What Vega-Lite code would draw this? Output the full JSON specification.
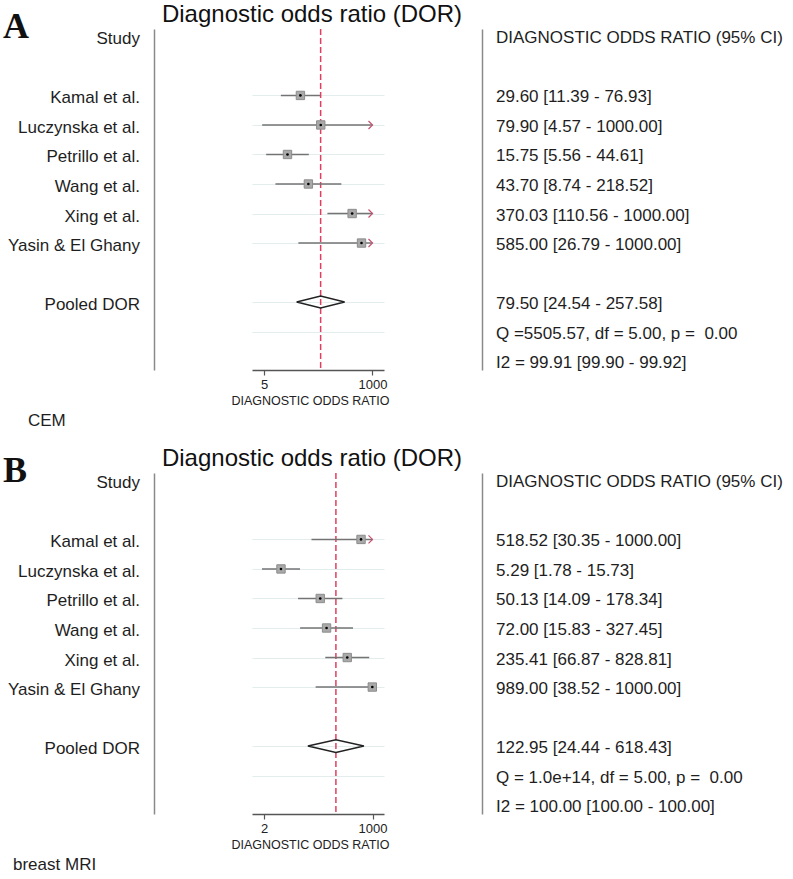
{
  "$schema": "https://vega.github.io/schema/vega-lite/v6.json",
  "padding": {"left": 0, "top": 3, "right": 0, "bottom": 0},
  "autosize": {"type": "pad"},
  "background": "white",
  "bounds": "flush",
  "columns": 3,
  "spacing": {"row": 103, "column": 98},
  "resolve": {"scale": {"x": "independent", "y": "independent"}},
  "config": {
    "view": {"stroke": null},
    "font": "Liberation Sans",
    "text": {"font": "Liberation Sans", "fontSize": 17, "color": "#1e1e1e"},
    "axis": {"labelFont": "Liberation Sans", "titleFont": "Liberation Sans"},
    "title": {"font": "Liberation Sans"}
  },
  "datasets": {
    "leftA": [
      {"row": 0, "text": "Study"},
      {"row": 2, "text": "Kamal et al."},
      {"row": 3, "text": "Luczynska et al."},
      {"row": 4, "text": "Petrillo et al."},
      {"row": 5, "text": "Wang et al."},
      {"row": 6, "text": "Xing et al."},
      {"row": 7, "text": "Yasin & El Ghany"},
      {"row": 9, "text": "Pooled DOR"}
    ],
    "notesA": [
      {"kind": "tag", "row": 0, "text": "A"},
      {"kind": "caption", "row": 13, "text": "CEM"}
    ],
    "studiesA": [
      {"row": 2, "dor": 29.60, "lo": 11.39, "hi": 76.93},
      {"row": 3, "dor": 79.90, "lo": 4.57, "hi": 1000},
      {"row": 4, "dor": 15.75, "lo": 5.56, "hi": 44.61},
      {"row": 5, "dor": 43.70, "lo": 8.74, "hi": 218.52},
      {"row": 6, "dor": 370.03, "lo": 110.56, "hi": 1000},
      {"row": 7, "dor": 585.00, "lo": 26.79, "hi": 1000}
    ],
    "pooledA": [{"row": 9, "dor": 79.50, "lo": 24.54, "hi": 257.58}],
    "rightA": [
      {"row": 0, "text": "DIAGNOSTIC ODDS RATIO (95% CI)"},
      {"row": 2, "text": "29.60 [11.39 - 76.93]"},
      {"row": 3, "text": "79.90 [4.57 - 1000.00]"},
      {"row": 4, "text": "15.75 [5.56 - 44.61]"},
      {"row": 5, "text": "43.70 [8.74 - 218.52]"},
      {"row": 6, "text": "370.03 [110.56 - 1000.00]"},
      {"row": 7, "text": "585.00 [26.79 - 1000.00]"},
      {"row": 9, "text": "\u00a079.50 [24.54 - 257.58]"},
      {"row": 10, "text": "Q =5505.57, df = 5.00, p =\u00a0 0.00"},
      {"row": 11, "text": "I2 = 99.91 [99.90 - 99.92]"}
    ],
    "leftB": [
      {"row": 0, "text": "Study"},
      {"row": 2, "text": "Kamal et al."},
      {"row": 3, "text": "Luczynska et al."},
      {"row": 4, "text": "Petrillo et al."},
      {"row": 5, "text": "Wang et al."},
      {"row": 6, "text": "Xing et al."},
      {"row": 7, "text": "Yasin & El Ghany"},
      {"row": 9, "text": "Pooled DOR"}
    ],
    "notesB": [
      {"kind": "tag", "row": 0, "text": "B"},
      {"kind": "caption", "row": 13, "text": "breast MRI"}
    ],
    "studiesB": [
      {"row": 2, "dor": 518.52, "lo": 30.35, "hi": 1000},
      {"row": 3, "dor": 5.29, "lo": 1.78, "hi": 15.73},
      {"row": 4, "dor": 50.13, "lo": 14.09, "hi": 178.34},
      {"row": 5, "dor": 72.00, "lo": 15.83, "hi": 327.45},
      {"row": 6, "dor": 235.41, "lo": 66.87, "hi": 828.81},
      {"row": 7, "dor": 989.00, "lo": 38.52, "hi": 1000}
    ],
    "pooledB": [{"row": 9, "dor": 122.95, "lo": 24.44, "hi": 618.43}],
    "rightB": [
      {"row": 0, "text": "DIAGNOSTIC ODDS RATIO (95% CI)"},
      {"row": 2, "text": "518.52 [30.35 - 1000.00]"},
      {"row": 3, "text": "5.29 [1.78 - 15.73]"},
      {"row": 4, "text": "50.13 [14.09 - 178.34]"},
      {"row": 5, "text": "72.00 [15.83 - 327.45]"},
      {"row": 6, "text": "235.41 [66.87 - 828.81]"},
      {"row": 7, "text": "989.00 [38.52 - 1000.00]"},
      {"row": 9, "text": "\u00a0122.95 [24.44 - 618.43]"},
      {"row": 10, "text": "Q = 1.0e+14, df = 5.00, p =\u00a0 0.00"},
      {"row": 11, "text": "I2 = 100.00 [100.00 - 100.00]"}
    ]
  },
  "concat": [
    {
      "width": 154, "height": 341,
      "layer": [
        {
          "data": {"name": "leftA"},
          "mark": {"type": "text", "align": "right", "baseline": "middle", "dx": -14, "dy": 3, "fontSize": 17},
          "encoding": {
            "x": {"datum": 1, "type": "quantitative", "scale": {"domain": [0, 1], "nice": false, "zero": false}, "axis": null},
            "y": {"field": "row", "type": "quantitative", "scale": {"domain": [-0.25, 11.3], "reverse": true, "nice": false, "zero": false},
                  "axis": {"orient": "right", "labels": false, "ticks": false, "grid": false, "title": null, "domainColor": "#8a8a8a", "domainWidth": 1.5}},
            "text": {"field": "text"}
          }
        },
        {
          "data": {"name": "notesA"},
          "transform": [{"filter": "datum.kind === 'tag'"}],
          "mark": {"type": "text", "align": "left", "baseline": "alphabetic", "dx": 3, "dy": 2, "font": "Liberation Serif", "fontWeight": "bold", "fontSize": 36, "color": "#111"},
          "encoding": {
            "x": {"datum": 0, "type": "quantitative", "scale": {"domain": [0, 1], "nice": false, "zero": false}, "axis": null},
            "y": {"field": "row", "type": "quantitative"},
            "text": {"field": "text"}
          }
        },
        {
          "data": {"name": "notesA"},
          "transform": [{"filter": "datum.kind === 'caption'"}],
          "mark": {"type": "text", "align": "left", "baseline": "middle", "dx": 28, "dy": 1, "fontSize": 17},
          "encoding": {
            "x": {"datum": 0, "type": "quantitative"},
            "y": {"field": "row", "type": "quantitative"},
            "text": {"field": "text"}
          }
        }
      ]
    },
    {
      "width": 132, "height": 341,
      "title": {"text": "Diagnostic odds ratio (DOR)", "fontSize": 24, "fontWeight": "normal", "anchor": "middle", "dx": -6, "offset": -23, "baseline": "bottom", "color": "#111"},
      "layer": [
        {
          "data": {"name": "pooledA"},
          "mark": {"type": "rule", "color": "#e0405f", "strokeDash": [6, 3], "strokeWidth": 1.5},
          "encoding": {
            "x": {"field": "dor", "type": "quantitative", "scale": {"type": "log", "domain": [2.783, 1754], "nice": false},
                  "title": "DIAGNOSTIC ODDS RATIO",
                  "axis": {"values": [5, 1000], "format": "d", "domain": true, "domainColor": "#555", "domainWidth": 1.5, "ticks": true, "tickSize": 5, "tickColor": "#555", "tickWidth": 1.2, "labelFontSize": 13, "labelColor": "#222", "labelPadding": 3, "labelFlush": false, "labelOverlap": false, "titleFontSize": 12.5, "titleFontWeight": "normal", "titleColor": "#222", "titlePadding": 3, "titleX": 58, "grid": false}}
          }
        },
        {
          "data": {"name": "studiesA"},
          "mark": {"type": "rule", "color": "#737373", "strokeWidth": 1.5},
          "encoding": {
            "x": {"field": "lo", "type": "quantitative", "title": "DIAGNOSTIC ODDS RATIO"},
            "x2": {"field": "hi"},
            "y": {"field": "row", "type": "quantitative", "scale": {"domain": [-0.25, 11.3], "reverse": true, "nice": false, "zero": false},
                  "axis": {"values": [2, 3, 4, 5, 6, 7, 9, 10], "grid": true, "gridColor": "#e3eded", "gridWidth": 1, "domain": false, "ticks": false, "labels": false, "title": null}}
          }
        },
        {
          "data": {"name": "studiesA"},
          "transform": [{"filter": "datum.hi >= 1000"}],
          "mark": {"type": "point", "shape": "M-1,-1L0,0L-1,1", "filled": false, "stroke": "#c8506e", "strokeWidth": 1.2, "size": 64, "opacity": 1},
          "encoding": {
            "x": {"field": "hi", "type": "quantitative", "title": "DIAGNOSTIC ODDS RATIO"},
            "y": {"field": "row", "type": "quantitative"}
          }
        },
        {
          "data": {"name": "studiesA"},
          "mark": {"type": "point", "shape": "square", "filled": true, "fill": "#a9a9a9", "stroke": "#8c8c8c", "strokeWidth": 1, "size": 70, "opacity": 1},
          "encoding": {
            "x": {"field": "dor", "type": "quantitative", "title": "DIAGNOSTIC ODDS RATIO"},
            "y": {"field": "row", "type": "quantitative"}
          }
        },
        {
          "data": {"name": "studiesA"},
          "mark": {"type": "point", "shape": "circle", "filled": true, "color": "#000", "size": 7, "opacity": 1},
          "encoding": {
            "x": {"field": "dor", "type": "quantitative", "title": "DIAGNOSTIC ODDS RATIO"},
            "y": {"field": "row", "type": "quantitative"}
          }
        },
        {
          "data": {"name": "pooledA"},
          "mark": {"type": "point", "shape": "M-1,0L0,-0.25L1,0L0,0.25Z", "filled": false, "stroke": "#222", "strokeWidth": 1.5, "size": 2304, "opacity": 1},
          "encoding": {
            "x": {"field": "dor", "type": "quantitative", "title": "DIAGNOSTIC ODDS RATIO"},
            "y": {"field": "row", "type": "quantitative"}
          }
        }
      ]
    },
    {
      "width": 311, "height": 341,
      "data": {"name": "rightA"},
      "mark": {"type": "text", "align": "left", "baseline": "middle", "dx": 14, "dy": 2, "fontSize": 17},
      "encoding": {
        "x": {"datum": 0, "type": "quantitative", "scale": {"domain": [0, 1], "nice": false, "zero": false}, "axis": null},
        "y": {"field": "row", "type": "quantitative", "scale": {"domain": [-0.25, 11.3], "reverse": true, "nice": false, "zero": false},
              "axis": {"orient": "left", "labels": false, "ticks": false, "grid": false, "title": null, "domainColor": "#8a8a8a", "domainWidth": 1.5}},
        "text": {"field": "text"}
      }
    },
    {
      "width": 154, "height": 341,
      "layer": [
        {
          "data": {"name": "leftB"},
          "mark": {"type": "text", "align": "right", "baseline": "middle", "dx": -14, "dy": 3, "fontSize": 17},
          "encoding": {
            "x": {"datum": 1, "type": "quantitative", "scale": {"domain": [0, 1], "nice": false, "zero": false}, "axis": null},
            "y": {"field": "row", "type": "quantitative", "scale": {"domain": [-0.25, 11.3], "reverse": true, "nice": false, "zero": false},
                  "axis": {"orient": "right", "labels": false, "ticks": false, "grid": false, "title": null, "domainColor": "#8a8a8a", "domainWidth": 1.5}},
            "text": {"field": "text"}
          }
        },
        {
          "data": {"name": "notesB"},
          "transform": [{"filter": "datum.kind === 'tag'"}],
          "mark": {"type": "text", "align": "left", "baseline": "alphabetic", "dx": 3, "dy": 2, "font": "Liberation Serif", "fontWeight": "bold", "fontSize": 36, "color": "#111"},
          "encoding": {
            "x": {"datum": 0, "type": "quantitative", "scale": {"domain": [0, 1], "nice": false, "zero": false}, "axis": null},
            "y": {"field": "row", "type": "quantitative"},
            "text": {"field": "text"}
          }
        },
        {
          "data": {"name": "notesB"},
          "transform": [{"filter": "datum.kind === 'caption'"}],
          "mark": {"type": "text", "align": "left", "baseline": "middle", "dx": 13, "dy": 1, "fontSize": 17},
          "encoding": {
            "x": {"datum": 0, "type": "quantitative"},
            "y": {"field": "row", "type": "quantitative"},
            "text": {"field": "text"}
          }
        }
      ]
    },
    {
      "width": 132, "height": 341,
      "title": {"text": "Diagnostic odds ratio (DOR)", "fontSize": 24, "fontWeight": "normal", "anchor": "middle", "dx": -6, "offset": -23, "baseline": "bottom", "color": "#111"},
      "layer": [
        {
          "data": {"name": "pooledB"},
          "mark": {"type": "rule", "color": "#e0405f", "strokeDash": [6, 3], "strokeWidth": 1.5},
          "encoding": {
            "x": {"field": "dor", "type": "quantitative", "scale": {"type": "log", "domain": [1.006, 1932], "nice": false},
                  "title": "DIAGNOSTIC ODDS RATIO",
                  "axis": {"values": [2, 1000], "format": "d", "domain": true, "domainColor": "#555", "domainWidth": 1.5, "ticks": true, "tickSize": 5, "tickColor": "#555", "tickWidth": 1.2, "labelFontSize": 13, "labelColor": "#222", "labelPadding": 3, "labelFlush": false, "labelOverlap": false, "titleFontSize": 12.5, "titleFontWeight": "normal", "titleColor": "#222", "titlePadding": 3, "titleX": 58, "grid": false}}
          }
        },
        {
          "data": {"name": "studiesB"},
          "mark": {"type": "rule", "color": "#737373", "strokeWidth": 1.5},
          "encoding": {
            "x": {"field": "lo", "type": "quantitative", "title": "DIAGNOSTIC ODDS RATIO"},
            "x2": {"field": "hi"},
            "y": {"field": "row", "type": "quantitative", "scale": {"domain": [-0.25, 11.3], "reverse": true, "nice": false, "zero": false},
                  "axis": {"values": [2, 3, 4, 5, 6, 7, 9, 10], "grid": true, "gridColor": "#e3eded", "gridWidth": 1, "domain": false, "ticks": false, "labels": false, "title": null}}
          }
        },
        {
          "data": {"name": "studiesB"},
          "transform": [{"filter": "datum.hi >= 1000"}],
          "mark": {"type": "point", "shape": "M-1,-1L0,0L-1,1", "filled": false, "stroke": "#c8506e", "strokeWidth": 1.2, "size": 64, "opacity": 1},
          "encoding": {
            "x": {"field": "hi", "type": "quantitative", "title": "DIAGNOSTIC ODDS RATIO"},
            "y": {"field": "row", "type": "quantitative"}
          }
        },
        {
          "data": {"name": "studiesB"},
          "mark": {"type": "point", "shape": "square", "filled": true, "fill": "#a9a9a9", "stroke": "#8c8c8c", "strokeWidth": 1, "size": 70, "opacity": 1},
          "encoding": {
            "x": {"field": "dor", "type": "quantitative", "title": "DIAGNOSTIC ODDS RATIO"},
            "y": {"field": "row", "type": "quantitative"}
          }
        },
        {
          "data": {"name": "studiesB"},
          "mark": {"type": "point", "shape": "circle", "filled": true, "color": "#000", "size": 7, "opacity": 1},
          "encoding": {
            "x": {"field": "dor", "type": "quantitative", "title": "DIAGNOSTIC ODDS RATIO"},
            "y": {"field": "row", "type": "quantitative"}
          }
        },
        {
          "data": {"name": "pooledB"},
          "mark": {"type": "point", "shape": "M-1,0L0,-0.23L1,0L0,0.23Z", "filled": false, "stroke": "#222", "strokeWidth": 1.5, "size": 3136, "opacity": 1},
          "encoding": {
            "x": {"field": "dor", "type": "quantitative", "title": "DIAGNOSTIC ODDS RATIO"},
            "y": {"field": "row", "type": "quantitative"}
          }
        }
      ]
    },
    {
      "width": 311, "height": 341,
      "data": {"name": "rightB"},
      "mark": {"type": "text", "align": "left", "baseline": "middle", "dx": 14, "dy": 2, "fontSize": 17},
      "encoding": {
        "x": {"datum": 0, "type": "quantitative", "scale": {"domain": [0, 1], "nice": false, "zero": false}, "axis": null},
        "y": {"field": "row", "type": "quantitative", "scale": {"domain": [-0.25, 11.3], "reverse": true, "nice": false, "zero": false},
              "axis": {"orient": "left", "labels": false, "ticks": false, "grid": false, "title": null, "domainColor": "#8a8a8a", "domainWidth": 1.5}},
        "text": {"field": "text"}
      }
    }
  ]
}
